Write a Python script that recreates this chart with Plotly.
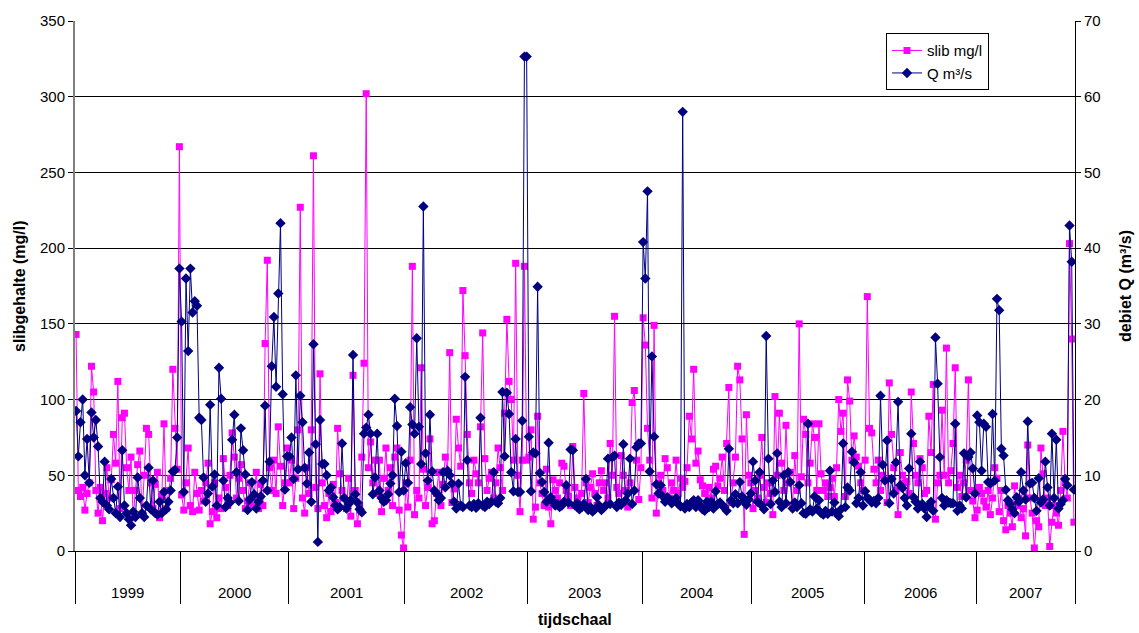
import plotly.graph_objects as go

years = ["1999", "2000", "2001", "2002", "2003", "2004", "2005", "2006", "2007"]

slib_1999 = [143, 40, 36, 42, 27, 38, 45, 122, 105, 40, 25, 42, 20, 38, 55, 35, 47, 77, 58, 112,
             28, 88, 91, 55, 40, 62, 22, 40, 57, 66, 24, 50, 81, 77, 45, 28, 44, 52, 22, 36,
             84, 28, 40, 48, 120, 81, 54, 267]
q_1999 = [18.5, 12.5, 17, 20, 10, 14.8, 9, 18.3, 15, 17.3, 13.8, 7, 6.5, 11.8, 6, 5.5, 9.5, 7, 5, 8.5,
          4.5, 13.3, 6, 5, 4.2, 3.4, 5.2, 4.5, 9.7, 7, 5, 4.5, 6, 11, 5.5, 9.3, 5, 4.8, 6.5, 5,
          7.8, 5.5, 6.5, 8, 10.5, 10.7, 15, 37.3]

slib_2000 = [37, 27, 45, 68, 30, 26, 52, 38, 27, 40, 33, 45, 58, 18, 26, 45, 22, 35, 28, 61,
             42, 30, 50, 78, 62, 35, 48, 57, 40, 28, 33, 45, 30, 36, 52, 28, 44, 30, 137, 192,
             55, 40, 60, 38, 82, 56, 30, 45, 68]
q_2000 = [30.3, 7.8, 36, 26.4, 37.3, 31.5, 33, 32.4, 17.6, 17.3, 9.7, 6.5, 7.6, 19.3, 8.5, 10.1, 6, 24.2, 20.1, 9.3,
          5.8, 7, 6.4, 14.7, 18, 10.4, 6.6, 16.2, 13.3, 10.1, 5.4, 6.8, 9.1, 7.5, 5.6, 6.5, 7.2, 9.3, 19.2, 8,
          11.8, 24.4, 30.9, 21.7, 34, 43.3, 20.7, 8.1, 12.5]

slib_2001 = [45, 60, 28, 48, 80, 227, 35, 25, 55, 38, 80, 261, 42, 28, 117, 45, 30, 22, 38, 26,
             44, 32, 81, 51, 40, 35, 28, 48, 23, 116, 40, 18, 30, 62, 124, 302, 55, 72, 45, 60,
             38, 60, 26, 48, 68, 40, 55, 30, 62, 68, 27, 10.5, 2]
q_2001 = [12.5, 15, 9.5, 23.2, 10.8, 20.5, 17, 11, 8.9, 13, 6.5, 27.3, 14.1, 1.2, 17.3, 11.5, 11.5, 10, 8, 8.4,
          7.1, 6, 5.5, 5.8, 14.2, 7, 5.6, 6.2, 6.7, 25.9, 7.5, 6.4, 5.5, 5.1, 15.5, 16.3, 18, 15.5, 7.5, 9.7,
          15.5, 8, 7, 6.5, 6.7, 7.5, 8.9, 10, 20.1, 16.5, 7.8, 13.1, 8]

slib_2002 = [45, 29, 60, 188, 24, 40, 35, 121, 54, 30, 42, 74, 18, 20, 38, 52, 30, 44, 62, 52,
             131, 32, 41, 87, 68, 56, 172, 129, 77, 45, 38, 60, 51, 45, 82, 144, 61, 40, 48, 52,
             35, 45, 68, 55, 40, 91, 153, 112, 100, 60, 190, 50, 26, 60, 188, 60]
q_2002 = [11.6, 9, 19, 16.7, 15.5, 28.1, 16.4, 11.5, 45.5, 12.9, 9.3, 18, 10.5, 8, 7.6, 6.7, 7, 10.4, 8.4, 10.6,
          10, 8.9, 6.5, 5.6, 8.9, 6, 5.8, 23, 12, 6, 5.8, 6.2, 5.7, 6.3, 17.6, 6, 5.8, 6.5, 6.2, 6.5,
          10.4, 6.5, 6.3, 7, 21, 12.5, 20.9, 18.1, 10.4, 7.9, 14.8, 7.8, 7.8, 17.2, 65.3, 65.3]

slib_2003 = [62, 80, 21, 29, 89, 45, 38, 30, 54, 29, 18, 47, 40, 35, 45, 58, 56, 40, 36, 30,
             69, 42, 35, 28, 38, 104, 45, 32, 42, 51, 38, 30, 45, 53, 40, 45, 35, 71, 50, 155,
             42, 38, 63, 50, 40, 29, 45, 98, 106, 60, 34, 55]
q_2003 = [15.1, 7.9, 13, 12.9, 34.9, 10.3, 9.1, 7.8, 6.5, 14.3, 7.1, 6.5, 6, 6.2, 5.8, 6, 6.5, 8.7, 6.4, 13.4,
          13.3, 6, 6.3, 5.5, 5.8, 6.2, 9.5, 5.4, 5.8, 5.2, 5.5, 7.1, 6, 5.4, 5.7, 6, 12.2, 6.2, 12.4, 12.6,
          5.8, 6.4, 6.1, 14.1, 6.7, 7.6, 12.2, 6.2, 8, 13.7, 14.2, 14.2]

slib_2004 = [154, 136, 81, 60, 35, 149, 25, 45, 50, 40, 61, 55, 35, 45, 40, 60, 38, 48, 42, 46,
             55, 89, 74, 120, 58, 66, 47, 43, 38, 30, 42, 35, 54, 56, 43, 48, 62, 40, 71, 108,
             32, 45, 62, 122, 113, 74, 11, 90, 50, 45]
q_2004 = [40.8, 36, 47.5, 10.5, 25.7, 15.1, 8.8, 7.6, 8.7, 7.2, 6.5, 7.1, 6.8, 6.3, 6.6, 7, 6.2, 5.9, 58, 5.6,
          6.2, 5.8, 6.4, 6.7, 5.8, 6.7, 6, 5.5, 5.3, 6.5, 5.8, 6.5, 5.6, 7.9, 6.2, 6.4, 6, 5.8, 5.3, 13.5,
          6.7, 6.3, 7.5, 6.3, 9.1, 7.2, 6.7, 6.1, 6.8, 7.6]

slib_2005 = [28, 40, 35, 50, 75, 42, 32, 45, 38, 24, 102, 50, 91, 58, 40, 83, 45, 52, 30, 63,
             40, 150, 49, 87, 77, 45, 58, 84, 75, 40, 84, 51, 40, 45, 36, 42, 48, 36, 55, 100,
             79, 91, 36, 113, 99, 60, 76, 62, 56, 45, 40]
q_2005 = [11.8, 9.3, 6.5, 10.4, 6, 5.5, 28.4, 12.2, 6.2, 9.3, 7.8, 12.9, 6.5, 5.8, 10, 6.3, 10.4, 9.1, 5.6, 6.4,
          5.8, 8.7, 6.3, 5, 4.9, 16.8, 5.5, 5.2, 7.2, 5.6, 6.7, 5, 4.8, 5.3, 4.9, 10.6, 5.2, 6.4, 5, 4.6,
          5.5, 14.2, 5.8, 8.4, 8, 13.1, 11.7, 6.3, 7, 10.4, 6]

slib_2006 = [60, 168, 81, 78, 54, 45, 60, 40, 50, 47, 32, 111, 77, 55, 40, 24, 65, 50, 45, 46,
             38, 105, 71, 50, 45, 61, 55, 38, 40, 89, 65, 110, 21, 45, 50, 93, 50, 134, 45, 53,
             71, 121, 42, 50, 36, 45, 60, 113, 40, 33, 22]
q_2006 = [7.9, 7, 6.8, 6.4, 6.6, 6.3, 7, 20.5, 11.4, 9.3, 14.6, 6.3, 9.5, 7.6, 11.7, 19.7, 8.7, 8.3, 7, 6,
          10.9, 15.5, 7.1, 6.5, 5.6, 11.8, 6.2, 5.6, 4.5, 6, 6.5, 5.3, 28.2, 22.1, 12.4, 7, 6, 6.7, 6.4, 6.3,
          6.3, 16.8, 5.3, 6, 5.6, 12.9, 7.1, 12.4, 13, 10.9, 7.6]

slib_2007 = [27, 42, 38, 33, 29, 40, 24, 35, 55, 48, 26, 40, 20, 14, 30, 25, 16, 43, 30, 35,
             22, 28, 10, 70, 35, 25, 2, 20, 16, 68, 51, 30, 35, 3, 19, 30, 25, 17, 40, 79,
             45, 35, 203, 140, 19]
q_2007 = [17.9, 17, 10.6, 16.8, 16.4, 9.1, 8.9, 18.1, 9.3, 33.3, 31.8, 13.5, 12.6, 8.1, 6.7, 6.2, 5.5, 5, 7.1, 6.5,
          10.4, 8, 6.8, 17.1, 8.9, 9, 7, 5.3, 9.6, 6.4, 6.8, 11.8, 8.4, 6, 15.5, 7, 14.7, 5.6, 6.2, 6.7,
          9.5, 8.7, 43, 38.2, 8.1]

slib_by_year = [slib_1999, slib_2000, slib_2001, slib_2002, slib_2003, slib_2004, slib_2005, slib_2006, slib_2007]
q_by_year = [q_1999, q_2000, q_2001, q_2002, q_2003, q_2004, q_2005, q_2006, q_2007]

slib_x, slib_y, q_x, q_y = [], [], [], []
bounds = [-0.5]
mids = []
start = 0
for s_vals, q_vals in zip(slib_by_year, q_by_year):
    n = max(len(s_vals), len(q_vals))
    slib_x += [start + i for i in range(len(s_vals))]
    slib_y += s_vals
    q_x += [start + i for i in range(len(q_vals))]
    q_y += q_vals
    mids.append(start + (n - 1) / 2)
    start += n
    bounds.append(start - 0.5)
N = start

PINK = "#FF00FF"
NAVY = "#000080"
FONT = "Arial, Liberation Sans, sans-serif"
TICK = 15
TITLE = 16

fig = go.Figure()
fig.add_trace(go.Scatter(
    x=slib_x, y=slib_y, name="slib mg/l", mode="lines+markers",
    line=dict(color=PINK, width=1),
    marker=dict(symbol="square", size=7, color=PINK),
    yaxis="y"))
fig.add_trace(go.Scatter(
    x=q_x, y=q_y, name="Q m³/s", mode="lines+markers",
    line=dict(color=NAVY, width=1),
    marker=dict(symbol="diamond", size=8, color=NAVY),
    yaxis="y2"))

annotations = []
for yr, m in zip(years, mids):
    annotations.append(dict(x=m, y=-42 / 533, xref="x", yref="paper", text=yr,
                            showarrow=False, xanchor="center", yanchor="middle",
                            font=dict(size=TICK, family=FONT, color="black")))
annotations.append(dict(x=0.5, y=-69 / 533, xref="paper", yref="paper", text="<b>tijdschaal</b>",
                        showarrow=False, xanchor="center", yanchor="middle",
                        font=dict(size=TITLE, family=FONT, color="black")))
annotations.append(dict(x=-56 / 1000, y=0.5, xref="paper", yref="paper", text="<b>slibgehalte (mg/l)</b>",
                        showarrow=False, xanchor="center", yanchor="middle", textangle=-90,
                        font=dict(size=TITLE, family=FONT, color="black")))
annotations.append(dict(x=1 + 50 / 1000, y=0.5, xref="paper", yref="paper", text="<b>debiet Q (m³/s)</b>",
                        showarrow=False, xanchor="center", yanchor="middle", textangle=-90,
                        font=dict(size=TITLE, family=FONT, color="black")))

fig.update_layout(
    width=1139, height=633,
    margin=dict(l=75, r=64, t=18, b=82),
    paper_bgcolor="white", plot_bgcolor="white",
    font=dict(family=FONT, size=TICK, color="black"),
    showlegend=True,
    legend=dict(x=0.811, y=0.977, xanchor="left", yanchor="top",
                bgcolor="white", bordercolor="black", borderwidth=1,
                font=dict(size=TICK, family=FONT), tracegroupgap=0),
    xaxis=dict(range=[-0.5, N - 0.5], tickmode="array", tickvals=bounds,
               ticks="outside", ticklen=52, tickcolor="black", tickwidth=1,
               showticklabels=False, showline=True, linecolor="black", linewidth=1,
               showgrid=False, zeroline=False, fixedrange=True),
    yaxis=dict(range=[0, 350], tick0=0, dtick=50, showgrid=True, gridcolor="black", gridwidth=1,
               showline=True, linecolor="#808080", linewidth=2, ticks="outside", ticklen=5,
               tickcolor="black", zeroline=False, tickfont=dict(size=TICK)),
    yaxis2=dict(range=[0, 70], tick0=0, dtick=10, overlaying="y", side="right", showgrid=False,
                showline=True, linecolor="black", linewidth=1, ticks="outside", ticklen=5,
                tickcolor="black", zeroline=False, tickfont=dict(size=TICK)),
    annotations=annotations,
)

fig.write_html("out.html")
